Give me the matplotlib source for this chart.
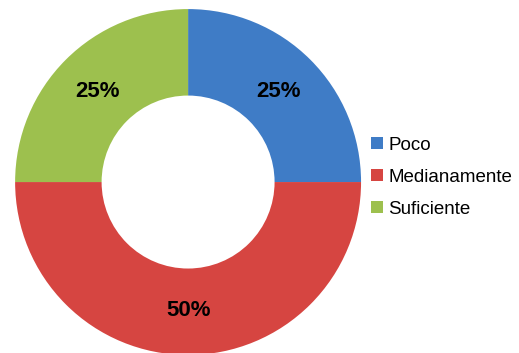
import matplotlib.pyplot as plt
from matplotlib.patches import Patch

labels = ['Poco', 'Medianamente', 'Suficiente']
values = [25, 50, 25]
colors = ['#3F7CC6', '#D64541', '#9DC04E']

plt.rcParams['font.family'] = ['Liberation Sans', 'DejaVu Sans']

fig = plt.figure(figsize=(5.19, 3.53), dpi=100)
ax = fig.add_axes([0.0289, -0.0057, 0.667, 0.980])

wedges, texts, autotexts = ax.pie(values, colors=colors, startangle=90, counterclock=False,
                                  autopct='%d%%', pctdistance=0.74,
                                  wedgeprops=dict(width=0.5, edgecolor='none'),
                                  textprops=dict(fontsize=16, fontweight='bold', color='black'))
ax.set_xlim(-1, 1)
ax.set_ylim(-1, 1)
ax.set_aspect('equal')

handles = [Patch(facecolor=c, edgecolor='none') for c in colors]
fig.legend(handles, labels, loc='center left', bbox_to_anchor=(0.683, 0.497),
           frameon=False, fontsize=13.5, handlelength=0.6, handleheight=0.6,
           handletextpad=0.3, labelspacing=0.8)

fig.savefig('out.png', dpi=100)
